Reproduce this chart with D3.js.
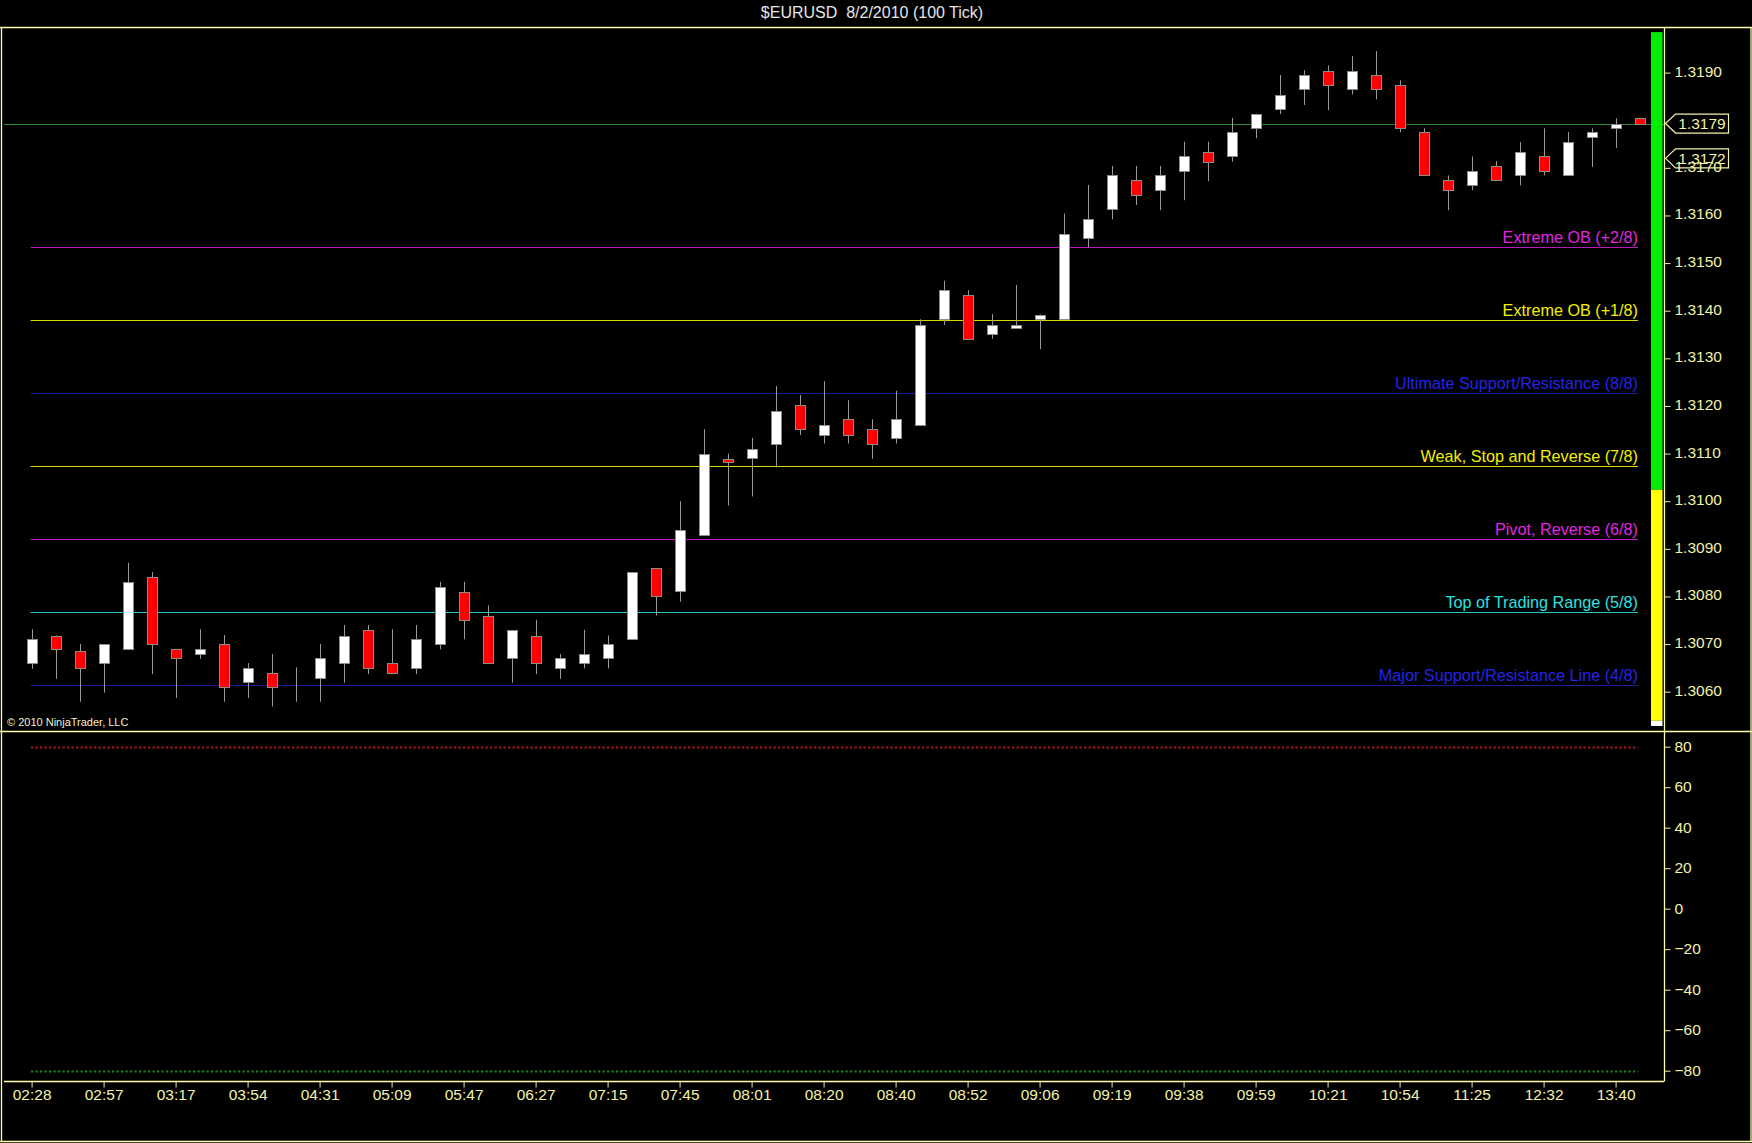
<!DOCTYPE html>
<html>
<head>
<meta charset="utf-8">
<title>$EURUSD 8/2/2010 (100 Tick)</title>
<script src="https://cdn.jsdelivr.net/npm/d3@7"></script>
<style>
  html, body { margin: 0; padding: 0; background: #000; }
  svg { display: block; }
  text { font-family: "Liberation Sans", Arial, sans-serif; }
</style>
</head>
<body>
<svg id="chart" width="1752" height="1143"></svg>
<script>
// ---- data -------------------------------------------------------------
const title = "$EURUSD  8/2/2010 (100 Tick)";

// 100-tick bars, oldest first
const opens  = [1.30660,1.30718,1.30685,1.30660,1.30689,1.30840,1.30689,1.30679,1.30700,1.30620,
                1.30639,1.30620,1.30628,1.30660,1.30730,1.30660,1.30649,1.30700,1.30810,1.30760,
                1.30670,1.30718,1.30649,1.30660,1.30670,1.30710,1.30859,1.30811,1.30930,1.31089,
                1.31090,1.31121,1.31201,1.31140,1.31172,1.31151,1.31132,1.31161,1.31382,1.31432,
                1.31352,1.31363,1.31382,1.31382,1.31552,1.31613,1.31674,1.31653,1.31693,1.31733,
                1.31724,1.31783,1.31823,1.31865,1.31904,1.31865,1.31894,1.31873,1.31775,1.31674,
                1.31663,1.31703,1.31684,1.31724,1.31684,1.31764,1.31783,1.31804];
const highs  = [1.30731,1.30718,1.30700,1.30700,1.30871,1.30851,1.30689,1.30731,1.30719,1.30660,
                1.30679,1.30651,1.30700,1.30740,1.30740,1.30731,1.30740,1.30831,1.30831,1.30781,
                1.30729,1.30751,1.30679,1.30730,1.30718,1.30851,1.30859,1.31000,1.31151,1.31100,
                1.31133,1.31242,1.31223,1.31252,1.31212,1.31172,1.31232,1.31382,1.31463,1.31443,
                1.31393,1.31454,1.31392,1.31604,1.31664,1.31704,1.31704,1.31704,1.31755,1.31755,
                1.31805,1.31814,1.31895,1.31905,1.31915,1.31935,1.31945,1.31884,1.31783,1.31684,
                1.31724,1.31714,1.31754,1.31783,1.31775,1.31783,1.31804,1.31804];
const lows   = [1.30648,1.30627,1.30579,1.30598,1.30689,1.30637,1.30587,1.30669,1.30579,1.30587,
                1.30569,1.30579,1.30579,1.30619,1.30637,1.30639,1.30637,1.30689,1.30710,1.30660,
                1.30619,1.30637,1.30627,1.30649,1.30649,1.30710,1.30760,1.30789,1.30930,1.30991,
                1.31010,1.31071,1.31139,1.31121,1.31121,1.31089,1.31121,1.31161,1.31370,1.31341,
                1.31341,1.31363,1.31319,1.31382,1.31533,1.31592,1.31622,1.31611,1.31632,1.31672,
                1.31713,1.31762,1.31813,1.31832,1.31821,1.31854,1.31844,1.31775,1.31684,1.31611,
                1.31653,1.31674,1.31663,1.31684,1.31684,1.31702,1.31742,1.31793];
const closes = [1.30710,1.30689,1.30649,1.30700,1.30830,1.30700,1.30670,1.30689,1.30609,1.30649,
                1.30609,1.30620,1.30670,1.30718,1.30649,1.30639,1.30710,1.30819,1.30750,1.30660,
                1.30729,1.30660,1.30670,1.30679,1.30700,1.30851,1.30800,1.30940,1.31100,1.31082,
                1.31110,1.31190,1.31151,1.31161,1.31140,1.31121,1.31172,1.31371,1.31443,1.31341,
                1.31371,1.31371,1.31392,1.31562,1.31592,1.31684,1.31642,1.31684,1.31724,1.31713,
                1.31775,1.31814,1.31854,1.31894,1.31873,1.31904,1.31865,1.31783,1.31684,1.31653,
                1.31693,1.31674,1.31733,1.31693,1.31754,1.31775,1.31793,1.31793];

// time labels, one every third bar
const timeLabels = ["02:28","02:57","03:17","03:54","04:31","05:09","05:47","06:27","07:15","07:45",
                    "08:01","08:20","08:40","08:52","09:06","09:19","09:38","09:59","10:21","10:54",
                    "11:25","12:32","13:40"];
const barsPerLabel = 3;

// price axis ticks (1.3180 sits under the last-price marker)
const priceTicks = [1.3060,1.3070,1.3080,1.3090,1.3100,1.3110,1.3120,1.3130,1.3140,1.3150,
                    1.3160,1.3170,1.3190];

// Murrey math levels
const levelNames  = ["Extreme OB (+2/8)","Extreme OB (+1/8)","Ultimate Support/Resistance (8/8)",
                     "Weak, Stop and Reverse (7/8)","Pivot, Reverse (6/8)","Top of Trading Range (5/8)",
                     "Major Support/Resistance Line (4/8)"];
const levelPrices = [1.31533,1.31380,1.31227,1.31074,1.30920,1.30767,1.30614];
const levelKinds  = ["magenta","yellow","blue","yellow","magenta","cyan","blue"];

// price markers on the right scale: a reference price and the last price
const refPrice = 1.3172;
const lastPrice = closes[closes.length - 1];

// side strength bar (price bands)
const bandFrom  = [1.31985, 1.31024, 1.30539];
const bandTo    = [1.31024, 1.30539, 1.30528];
const bandKinds = ["green","yellow","white"];

// oscillator panel
const oscTicks = [80,60,40,20,0,-20,-40,-60,-80];
const oscUpper = 80;
const oscLower = -80;

// ---- styles -------------------------------------------------------------
const levelStyle = {
  magenta: { line: "#b81cb8", text: "#e026e0" },
  yellow:  { line: "#d8d800", text: "#f0f000" },
  blue:    { line: "#1c1c9c", text: "#2424e6" },
  cyan:    { line: "#22c8c8", text: "#2ee0e0" }
};
const bandStyle = { green: "#00ee00", yellow: "#ffff00", white: "#ffffff" };
const axisColor = "#f2f2a8";
const frameColor = "#ffffb0";

// ---- layout -------------------------------------------------------------
const svg = d3.select("#chart");
const W = 1752, H = 1143;
const frameTop = 27, axisX = 1664;
const priceBottom = 731.5;
const oscBottom = 1081.5;
const fontSize = 15.5;

const x = d3.scaleLinear().domain([0, opens.length - 1]).range([31.6, 31.6 + 24 * (opens.length - 1)]);
const y = d3.scaleLinear().domain([1.3060, 1.3190]).range([691.7, 72.6]);
const yOsc = d3.scaleLinear().domain([-80, 80]).range([1070.7, 746.7]);

svg.append("rect").attr("width", W).attr("height", H).attr("fill", "#000");

// title
svg.append("text").attr("x", 872).attr("y", 18).attr("text-anchor", "middle")
  .style("white-space", "pre")
  .attr("fill", "#e6e6e6").attr("font-size", 16).text(title);

// price panel contents clipped
svg.append("clipPath").attr("id", "priceClip").append("rect")
  .attr("x", 2).attr("y", frameTop + 1).attr("width", axisX - 2).attr("height", priceBottom - frameTop - 1);
const pricePanel = svg.append("g").attr("clip-path", "url(#priceClip)");

// last price line
pricePanel.append("line")
  .attr("x1", 4).attr("x2", axisX)
  .attr("y1", Math.round(y(lastPrice)) + 0.5)
  .attr("y2", Math.round(y(lastPrice)) + 0.5)
  .attr("stroke", "#2c8a2c").attr("stroke-width", 1);

// Murrey levels
const levelX0 = 30.6, levelX1 = 1638;
const levels = pricePanel.append("g");
levelPrices.forEach((p, i) => {
  const yy = Math.round(y(p)) + 0.5;
  const st = levelStyle[levelKinds[i]];
  levels.append("line").attr("x1", levelX0).attr("x2", levelX1).attr("y1", yy).attr("y2", yy)
    .attr("stroke", st.line).attr("stroke-width", 1);
  levels.append("text").attr("x", levelX1).attr("y", yy - 5).attr("text-anchor", "end")
    .attr("fill", st.text).attr("font-size", 16.2).text(levelNames[i]);
});

// candles
const bodyW = 10;
const candles = pricePanel.append("g").selectAll("g").data(opens.map((o, i) => ({
  i, o, h: highs[i], l: lows[i], c: closes[i]
}))).join("g");
candles.append("line")
  .attr("x1", d => Math.round(x(d.i)) + 0.5).attr("x2", d => Math.round(x(d.i)) + 0.5)
  .attr("y1", d => y(d.h)).attr("y2", d => y(d.l))
  .attr("stroke", "#9a9a9a").attr("stroke-width", 1);
candles.append("rect")
  .attr("x", d => Math.round(x(d.i)) - bodyW / 2 + 0.5)
  .attr("y", d => Math.round(y(Math.max(d.o, d.c))) + 0.5)
  .attr("width", bodyW)
  .attr("height", d => Math.max(0, Math.round(y(Math.min(d.o, d.c))) - Math.round(y(Math.max(d.o, d.c)))))
  .attr("fill", d => d.c >= d.o ? "#ffffff" : "#ff0000")
  .attr("stroke", "#8a8a8a").attr("stroke-width", 1);

// side strength bar
bandFrom.forEach((f, i) => {
  svg.append("rect").attr("x", 1651).attr("width", 11.5)
    .attr("y", y(f)).attr("height", y(bandTo[i]) - y(f))
    .attr("fill", bandStyle[bandKinds[i]]);
});

// copyright
svg.append("text").attr("x", 7).attr("y", 726).attr("fill", "#f0f0d0")
  .attr("font-size", 11).text("\u00a9 2010 NinjaTrader, LLC");

// oscillator guide lines
[[oscUpper, "#b01818"], [oscLower, "#138a13"]].forEach(([v, col]) => {
  svg.append("line").attr("x1", 31).attr("x2", 1638)
    .attr("y1", Math.round(yOsc(v)) + 0.5).attr("y2", Math.round(yOsc(v)) + 0.5)
    .attr("stroke", col).attr("stroke-width", 2.2).attr("stroke-dasharray", "2.2,2.3");
});

// price marker tag on the right scale
function marker(price) {
  const yc = y(price);
  const g = svg.append("g");
  g.append("path")
    .attr("d", `M${axisX + 1.5},${yc} L${axisX + 11.5},${yc - 9.5} L1728.5,${yc - 9.5} L1728.5,${yc + 9.5} L${axisX + 11.5},${yc + 9.5} Z`)
    .attr("fill", "#000").attr("stroke", axisColor).attr("stroke-width", 1.2);
  g.append("text").attr("x", 1702).attr("y", yc).attr("dy", "0.36em").attr("text-anchor", "middle")
    .attr("fill", axisColor).attr("font-size", fontSize).text(price.toFixed(4));
}
// the reference tag lies under the axis labels
marker(refPrice);

// price axis
const priceAxis = svg.append("g").attr("transform", `translate(${axisX + 0.5},0)`)
  .call(d3.axisRight(y).tickValues(priceTicks).tickFormat(d3.format(".4f")).tickSize(6).tickPadding(4));
// oscillator axis
const oscAxis = svg.append("g").attr("transform", `translate(${axisX + 0.5},0)`)
  .call(d3.axisRight(yOsc).tickValues(oscTicks).tickFormat(d3.format("d")).tickSize(6).tickPadding(4));
// time axis
const timeTicks = timeLabels.map((_, k) => k * barsPerLabel);
const timeAxis = svg.append("g").attr("transform", `translate(0,${oscBottom})`)
  .call(d3.axisBottom(x).tickValues(timeTicks).tickFormat((d, k) => timeLabels[k]).tickSize(6).tickPadding(4));

[priceAxis, oscAxis, timeAxis].forEach(a => {
  a.select(".domain").remove();
  a.selectAll(".tick line").attr("stroke", axisColor);
  a.selectAll(".tick text").attr("fill", axisColor).attr("font-size", fontSize)
    .attr("font-family", "'Liberation Sans', Arial, sans-serif");
});
priceAxis.selectAll(".tick text").attr("dy", "0.22em");
oscAxis.selectAll(".tick text").attr("dy", "0.3em");
timeAxis.selectAll(".tick text").attr("dy", "0.58em");

// last price tag on top of the axis
marker(lastPrice);

// frames and separators
const frame = svg.append("g").attr("stroke", frameColor).attr("stroke-width", 1.3).attr("fill", "none");
frame.append("line").attr("x1", 0).attr("x2", W).attr("y1", frameTop + 0.5).attr("y2", frameTop + 0.5);
frame.append("line").attr("x1", 1.5).attr("x2", 1.5).attr("y1", frameTop).attr("y2", H - 1);
frame.append("line").attr("x1", 0).attr("x2", W).attr("y1", H - 1.5).attr("y2", H - 1.5);
frame.append("line").attr("x1", W - 1).attr("x2", W - 1).attr("y1", frameTop).attr("y2", H - 1);
frame.append("line").attr("x1", 0).attr("x2", W).attr("y1", priceBottom).attr("y2", priceBottom);
frame.append("line").attr("x1", axisX + 0.5).attr("x2", axisX + 0.5).attr("y1", frameTop).attr("y2", oscBottom);
frame.append("line").attr("x1", 4).attr("x2", axisX).attr("y1", oscBottom).attr("y2", oscBottom);
</script>
</body>
</html>
